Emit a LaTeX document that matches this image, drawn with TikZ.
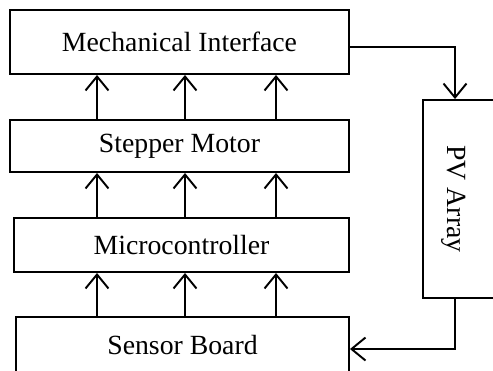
\documentclass[tikz,border=0pt]{standalone}
\usepackage{fontspec}
\setmainfont{Liberation Serif}
\usepackage{tikz}
\usetikzlibrary{arrows.meta,calc}
\tikzset{
  blk/.style ={draw=black,fill=white,line width=1.1pt,inner sep=0pt,
               font=\fontsize{15.8}{19}\selectfont},
  fl/.style  ={-{Straight Barb[length=2.8mm,width=4.6mm,line width=1.1pt]},draw=black,line width=1.1pt},
}
\begin{document}
\begin{tikzpicture}[x=0.02cm,y=-0.02cm]
\useasboundingbox (0,0) rectangle (493,370);

%% blocks (pixel grid of the sketch, y downwards)
\node[blk,minimum width=339*0.02cm,minimum height=64*0.02cm] (mech)  at (179.5,42) {Mechanical Interface};
\node[blk,minimum width=339*0.02cm,minimum height=52*0.02cm] (step)  at (179.5,146) {Stepper Motor};
\node[blk,minimum width=335*0.02cm,minimum height=54*0.02cm] (micro) at (181.5,245) {Microcontroller};
\node[blk,minimum width=333*0.02cm,minimum height=56*0.02cm] (sens)  at (182.5,345) {Sensor Board};
\node[blk,minimum width=72*0.02cm,minimum height=198*0.02cm] (pv) at (459,199) {};
\node[font=\fontsize{15.8}{19}\selectfont,rotate=-90] (pvt) at (454,199) {PV Array};

% columns of the parallel arrows
\coordinate (c1) at (97,0);
\coordinate (c2) at (185,0);
\coordinate (c3) at (276,0);
\coordinate (c4) at (455,0);

\foreach \lo/\hi in {step/mech, micro/step, sens/micro}
  \foreach \c in {c1,c2,c3}
    \draw[fl] (\lo.north -| \c) -- (\hi.south -| \c);

% loop through the PV array
\draw[fl] ([yshift=-5*0.02cm]mech.east) -| (pv.north -| c4);
\draw[fl] (pv.south -| c4) |- ([yshift=-4*0.02cm]sens.east);

\end{tikzpicture}
\end{document}
